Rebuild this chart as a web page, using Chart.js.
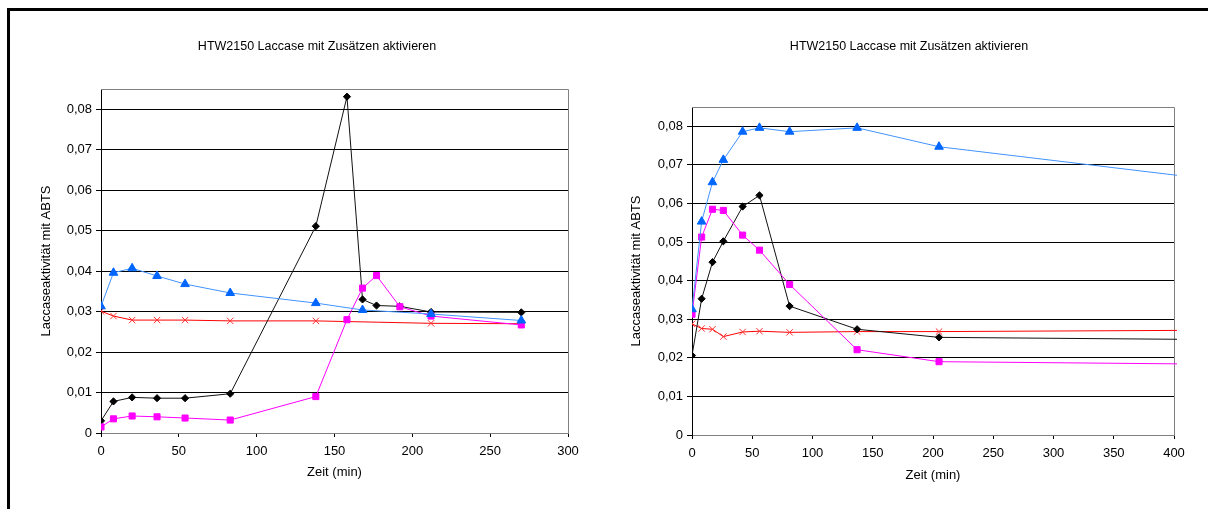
<!DOCTYPE html>
<html>
<head>
<meta charset="utf-8">
<title>HTW2150 Laccase mit Zusätzen aktivieren</title>
<script src="https://cdn.jsdelivr.net/npm/chart.js@4.4.1/dist/chart.umd.min.js"></script>
<style>
  html, body { margin: 0; padding: 0; background: #fff; }
  body { width: 1208px; height: 509px; position: relative; overflow: hidden; }
  #frame { position: absolute; left: 7px; top: 8px; width: 1400px; height: 700px;
           border-left: 3px solid #000; border-top: 3px solid #000; }
  canvas { position: absolute; top: 0; }
  #leftChart { left: 0; }
  #rightChart { left: 600px; }
</style>
</head>
<body>
<div id="frame"></div>
<canvas id="leftChart" width="600" height="509"></canvas>
<canvas id="rightChart" width="608" height="509"></canvas>

<script>
// Chart texts
const chartTitle = "HTW2150 Laccase mit Zusätzen aktivieren";
const xTitle = "Zeit (min)";
const yTitle = "Laccaseaktivität mit ABTS";

// Tick labels
const yTicks = [0, 0.01, 0.02, 0.03, 0.04, 0.05, 0.06, 0.07, 0.08];
const yTickLabels = ["0", "0,01", "0,02", "0,03", "0,04", "0,05", "0,06", "0,07", "0,08"];
const leftXTicks = [0, 50, 100, 150, 200, 250, 300];
const rightXTicks = [0, 50, 100, 150, 200, 250, 300, 350, 400];

// Left chart data (time in min, activity)
const leftBlackTime = [0, 8, 20, 36, 54, 83, 138, 158, 168, 177, 192, 212, 270];
const leftBlackValue = [0.0030, 0.0078, 0.0088, 0.0086, 0.0086, 0.0097, 0.0511, 0.0831, 0.0330, 0.0315, 0.0313, 0.0299, 0.0298];

const leftPinkTime = [0, 8, 20, 36, 54, 83, 138, 158, 168, 177, 192, 212, 270];
const leftPinkValue = [0.0015, 0.0035, 0.0042, 0.0040, 0.0037, 0.0032, 0.0090, 0.0280, 0.0358, 0.0389, 0.0312, 0.0289, 0.0267];

const leftBlueTime = [0, 8, 20, 36, 54, 83, 138, 168, 212, 270];
const leftBlueValue = [0.0313, 0.0396, 0.0407, 0.0388, 0.0368, 0.0346, 0.0321, 0.0304, 0.0294, 0.0278];

const leftRedTime = [0, 8, 20, 36, 54, 83, 138, 212, 270];
const leftRedValue = [0.0301, 0.0289, 0.0279, 0.0279, 0.0279, 0.0277, 0.0277, 0.0271, 0.0270];

// Right chart data (last point lies outside the visible axis range)
const rightTime = [0, 8, 17, 26, 42, 56, 81, 137, 205, 1440];
const rightBlueValue = [0.0326, 0.0553, 0.0655, 0.0713, 0.0786, 0.0796, 0.0786, 0.0796, 0.0747, 0.0284];
const rightPinkValue = [0.0313, 0.0513, 0.0585, 0.0582, 0.0518, 0.0479, 0.0390, 0.0221, 0.0190, 0.0155];
const rightBlackValue = [0.0206, 0.0353, 0.0448, 0.0502, 0.0592, 0.0621, 0.0334, 0.0274, 0.0253, 0.0222];
const rightRedValue = [0.0288, 0.0276, 0.0274, 0.0255, 0.0267, 0.0269, 0.0266, 0.0268, 0.0268, 0.0287];

const FONT = "'Liberation Sans', Arial, sans-serif";

// Series styles
const blueStyle = { borderColor: '#4193ff', pointBackgroundColor: '#0066ff', pointBorderColor: '#0066ff',
                    pointStyle: 'triangle', pointRadius: 5 };
const pinkStyle = { borderColor: '#ff00ff', pointBackgroundColor: '#ff00ff', pointBorderColor: '#ff00ff',
                    pointStyle: 'rect', pointRadius: 4.3 };
const blackStyle = { borderColor: '#111111', pointBackgroundColor: '#000000', pointBorderColor: '#000000',
                     pointStyle: 'rectRot', pointRadius: 3.6 };
const redStyle = { borderColor: '#ff0000', pointBackgroundColor: '#ff3030', pointBorderColor: '#ff3030',
                   pointStyle: 'crossRot', pointRadius: 4.5 };

function series(times, values, style) {
    return Object.assign({
        data: times.map((t, i) => ({ x: t, y: values[i] })),
        showLine: true,
        borderWidth: 1,
        pointBorderWidth: 1,
        tension: 0,
        clip: { left: 0, top: 0, right: 3, bottom: 0 }
    }, style);
}

// Draws the chart title and the grey top/right plot border
function chartDecor(titleX, titleY) {
    return {
        id: 'chartDecor',
        beforeDatasetsDraw(chart) {
            const ctx = chart.ctx;
            const a = chart.chartArea;
            ctx.save();
            ctx.strokeStyle = '#808080';
            ctx.lineWidth = 1;
            ctx.beginPath();
            ctx.moveTo(a.left, a.top + 0.5);
            ctx.lineTo(a.right + 0.5, a.top + 0.5);
            ctx.lineTo(a.right + 0.5, a.bottom);
            ctx.stroke();
            ctx.restore();
        },
        afterDraw(chart) {
            const ctx = chart.ctx;
            ctx.save();
            ctx.fillStyle = '#000';
            ctx.font = "12.5px " + FONT;
            ctx.textAlign = 'center';
            ctx.textBaseline = 'middle';
            ctx.fillText(chartTitle, titleX, titleY);
            ctx.restore();
        }
    };
}

function buildChart(canvasId, datasets, xTicks, xMax, layout) {
    const ctx = document.getElementById(canvasId).getContext('2d');
    return new Chart(ctx, {
        type: 'scatter',
        data: { datasets: datasets },
        options: {
            responsive: false,
            animation: false,
            layout: { padding: { left: 0, right: layout.padRight, top: layout.padTop, bottom: 0 } },
            plugins: { legend: { display: false }, tooltip: { enabled: false }, title: { display: false } },
            scales: {
                x: {
                    type: 'linear',
                    min: 0,
                    max: xMax,
                    afterBuildTicks: (scale) => { scale.ticks = xTicks.map(v => ({ value: v })); },
                    afterFit: (scale) => { scale.height = layout.xHeight; },
                    grid: { drawOnChartArea: false, drawTicks: true, tickLength: 4, tickColor: '#000' },
                    border: { color: '#808080', width: 1 },
                    ticks: { color: '#000', font: { family: FONT, size: 13 }, padding: 7, maxRotation: 0 },
                    title: { display: true, text: xTitle, color: '#000', font: { family: FONT, size: 13 },
                             padding: { top: 0, bottom: layout.xTitlePad } }
                },
                y: {
                    min: 0,
                    max: 0.085,
                    afterBuildTicks: (scale) => { scale.ticks = yTicks.map(v => ({ value: v })); },
                    afterFit: (scale) => { scale.width = layout.yWidth; },
                    grid: { color: (c) => (c.tick && c.tick.value === 0 ? '#808080' : '#000'),
                            tickColor: '#000', tickLength: 5, lineWidth: 1 },
                    border: { color: '#000', width: 1 },
                    ticks: { color: '#000', font: { family: FONT, size: 13 }, padding: 4,
                             callback: (value) => yTickLabels[yTicks.indexOf(value)] },
                    title: { display: true, text: yTitle, color: '#000', font: { family: FONT, size: 13 },
                             padding: { top: layout.yTitlePad, bottom: 0 } }
                }
            }
        },
        plugins: [chartDecor(layout.titleX, layout.titleY)]
    });
}

buildChart('leftChart', [
    series(leftBlueTime, leftBlueValue, blueStyle),
    series(leftPinkTime, leftPinkValue, pinkStyle),
    series(leftBlackTime, leftBlackValue, blackStyle),
    series(leftRedTime, leftRedValue, redStyle)
], leftXTicks, 300, {
    padRight: 32, padTop: 89, xHeight: 76, yWidth: 101,
    xTitlePad: 29, yTitlePad: 39, titleX: 317, titleY: 47
});

buildChart('rightChart', [
    series(rightTime, rightBlueValue, blueStyle),
    series(rightTime, rightPinkValue, pinkStyle),
    series(rightTime, rightBlackValue, blackStyle),
    series(rightTime, rightRedValue, redStyle)
], rightXTicks, 400, {
    padRight: 34, padTop: 107, xHeight: 74, yWidth: 92,
    xTitlePad: 26, yTitlePad: 29, titleX: 309, titleY: 47
});
</script>
</body>
</html>
